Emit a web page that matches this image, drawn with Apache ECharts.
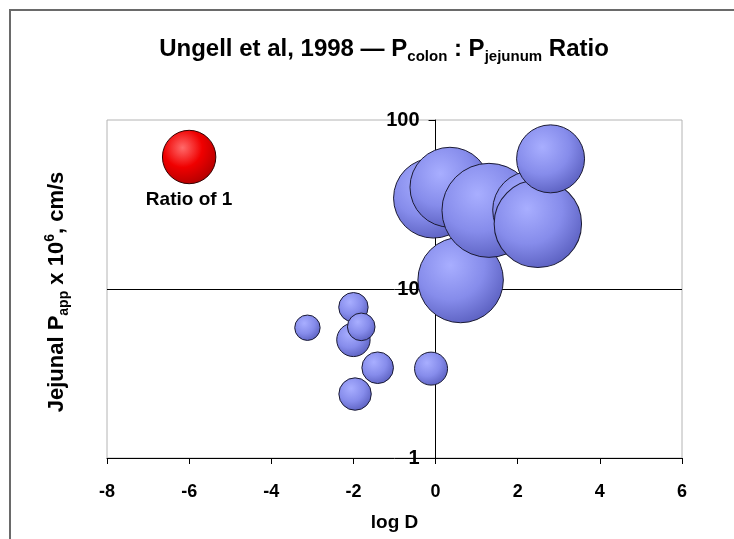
<!DOCTYPE html>
<html>
<head>
<meta charset="utf-8">
<script src="https://cdn.jsdelivr.net/npm/echarts@6/dist/echarts.min.js"></script>
<style>
html,body{margin:0;padding:0;background:#ffffff;}
#chart{width:734px;height:539px;}
</style>
</head>
<body>
<div id="chart"></div>
<script>
// ---- data ----
// compounds: log D, jejunal Papp (x10^6 cm/s), Pcolon:Pjejunum ratio (bubble size)
const logD   = [0.61, -0.05, 0.35, 1.30, 2.34, 2.49, 2.80, -3.12, -2.00, -2.00, -1.81, -1.41, -0.11, -1.96];
const papp   = [11.3, 34.5, 40.0, 29.2, 29.3, 24.3, 58.9, 5.9, 7.8, 5.0, 5.97, 3.42, 3.38, 2.39];
const ratio  = [2.56, 2.24, 2.24, 3.10, 2.13, 2.68, 1.62, 0.226, 0.303, 0.391, 0.267, 0.350, 0.382, 0.368];
// reference bubble (ratio of 1)
const refLogD = [-6.0];
const refPapp = [60.4];
const refRatio = [1.0];
const refLabel = 'Ratio of 1';
const xTicks = [-8, 6, 2];   // min, max, interval
const yRange = [1, 100];

const GRID = {left:107, right:52, top:120, bottom:81};
const chartW = 734;
const gridW = chartW - GRID.left - GRID.right;
// y axis crosses the x axis at log D = 0
const yAxisOffset = -((0 - xTicks[0]) / (xTicks[1] - xTicks[0])) * gridW;

const chart = echarts.init(document.getElementById('chart'));
const FONT = '"Liberation Sans", Arial, sans-serif';
const sizeOf = v => 53.4 * Math.sqrt(v[2]);

const blueData = logD.map((x, i) => [x, papp[i], ratio[i]]);
const redData = refLogD.map((x, i) => [x, refPapp[i], refRatio[i]]);

const blueGrad = {type:'radial', x:0.38, y:0.33, r:0.72, colorStops:[
  {offset:0, color:'#a8aeff'}, {offset:0.55, color:'#868ceb'}, {offset:1, color:'#5a5fbf'}]};
const redGrad = {type:'radial', x:0.38, y:0.33, r:0.72, colorStops:[
  {offset:0, color:'#ff6a6a'}, {offset:0.5, color:'#f00000'}, {offset:1, color:'#b00000'}]};

chart.setOption({
  animation:false,
  backgroundColor:'#ffffff',
  title:{
    text:'{m|Ungell et al, 1998 — P}{s|colon}{m| : P}{s|jejunum}{m| Ratio}',
    left:379, top:29, textAlign:'center',
    textStyle:{
      rich:{
        m:{fontFamily:FONT, fontWeight:'bold', fontSize:24, color:'#000', lineHeight:30, verticalAlign:'middle'},
        s:{fontFamily:FONT, fontWeight:'bold', fontSize:15, color:'#000', lineHeight:12, verticalAlign:'bottom'}
      }
    }
  },
  grid:{left:GRID.left, right:GRID.right, top:GRID.top, bottom:GRID.bottom, show:true, borderColor:'#b4b4b4', borderWidth:1, backgroundColor:'transparent'},
  xAxis:{
    type:'value', min:xTicks[0], max:xTicks[1], interval:xTicks[2],
    name:'log D', nameLocation:'middle', nameGap:55,
    nameTextStyle:{fontFamily:FONT, fontWeight:'bold', fontSize:19, color:'#000'},
    axisLine:{onZero:false, lineStyle:{color:'#000', width:1}},
    axisTick:{show:true, inside:false, length:6, lineStyle:{color:'#000'}},
    axisLabel:{fontFamily:FONT, fontWeight:'bold', fontSize:18, color:'#000', margin:25},
    splitLine:{show:false}
  },
  yAxis:{
    type:'log', logBase:10, min:yRange[0], max:yRange[1],
    position:'left', offset:yAxisOffset,
    axisLine:{show:true, onZero:false, lineStyle:{color:'#000', width:1}},
    axisTick:{show:true, inside:false, length:7, lineStyle:{color:'#000'}},
    axisLabel:{fontFamily:FONT, fontWeight:'bold', fontSize:20, color:'#000', margin:16},
    splitLine:{show:true, showMinLine:false, showMaxLine:false, lineStyle:{color:'#000', width:1}},
    minorTick:{show:false}
  },
  graphic:[
    {type:'rect', silent:true, z:-1, shape:{x:10, y:10, width:740, height:540},
     style:{fill:'none', stroke:'#6a6a6a', lineWidth:2}},
    {type:'text', x:57, y:292, rotation:Math.PI/2,
     style:{
       text:'{m|Jejunal P}{s|app}{m| x 10}{p|6}{m|, cm/s}',
       align:'center', verticalAlign:'middle',
       rich:{
         m:{fontFamily:FONT, fontWeight:'bold', fontSize:22, fill:'#000', lineHeight:28, verticalAlign:'middle'},
         s:{fontFamily:FONT, fontWeight:'bold', fontSize:14, fill:'#000', lineHeight:12, verticalAlign:'bottom'},
         p:{fontFamily:FONT, fontWeight:'bold', fontSize:14, fill:'#000', lineHeight:12, verticalAlign:'top'}
       }
     }}
  ],
  series:[
    {
      type:'scatter', name:'compounds', data:blueData, symbol:'circle',
      symbolSize:sizeOf,
      itemStyle:{color:blueGrad, borderColor:'#1a1a33', borderWidth:1, opacity:1},
      z:3
    },
    {
      type:'scatter', name:'reference', data:redData, symbol:'circle',
      symbolSize:sizeOf,
      itemStyle:{color:redGrad, borderColor:'#330000', borderWidth:1, opacity:1},
      label:{show:true, position:'bottom', distance:6, formatter:refLabel,
        fontFamily:FONT, fontWeight:'bold', fontSize:19, color:'#000'},
      z:3
    }
  ]
});
</script>
</body>
</html>
